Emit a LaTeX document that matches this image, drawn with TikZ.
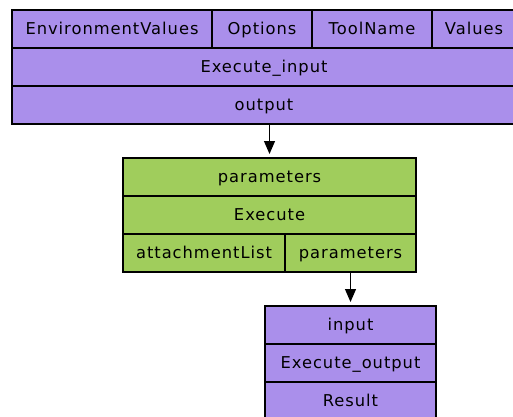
\documentclass[tikz,border=0pt]{standalone}
\usepackage{fontspec}
\usepackage{xcolor}
\usepackage{tikz}
\usetikzlibrary{positioning, arrows.meta}

\newfontfamily\cellfont[LetterSpace=6]{DejaVu Sans}
\definecolor{msgpurple}{RGB}{170,143,235}
\definecolor{opgreen}{RGB}{160,205,92}

\begin{document}
\begin{tikzpicture}[
    cell/.style = {draw, rectangle, minimum height=38pt, inner sep=0pt, outer sep=0pt, align=center, text height=11pt, text depth=0pt, font=\cellfont\fontsize{16.3}{19}\selectfont, line width=1.1pt},
    msgcell/.style = {cell, fill=msgpurple},
    opcell/.style = {cell, fill=opgreen},
    arrow/.style = {-{Triangle[length=13pt, width=11pt]}, line width=1.1pt, shorten >=4pt}
  ]
  \useasboundingbox (0,0) rectangle (513pt,-416pt);

  % ================= EXECUTE_INPUT =================
  \node[msgcell, minimum width=200pt, anchor=north west] (envvals) at (12pt,-10pt) {EnvironmentValues};
  \node[msgcell, minimum width=100pt, right=0pt of envvals] (options) {Options};
  \node[msgcell, minimum width=120pt, right=0pt of options] (toolname) {ToolName};
  \node[msgcell, minimum width=84pt, right=0pt of toolname] (values) {Values};
  \node[msgcell, minimum width=504pt, anchor=north west] (execin) at (envvals.south west) {Execute\_input};
  \node[msgcell, minimum width=504pt, below=0pt of execin] (output) {output};

  % ================= EXECUTE =================
  \node[opcell, minimum width=293pt, below=34pt of output, xshift=5.5pt] (params) {parameters};
  \node[opcell, minimum width=293pt, below=0pt of params] (execute) {Execute};
  \node[opcell, minimum width=162pt, anchor=north west] (attlist) at (execute.south west) {attachmentList};
  \node[opcell, minimum width=131pt, right=0pt of attlist] (opparams) {parameters};

  % ================= EXECUTE_OUTPUT =================
  \node[msgcell, minimum width=171pt, below=34pt of opparams] (input) {input};
  \node[msgcell, minimum width=171pt, below=0pt of input] (execout) {Execute\_output};
  \node[msgcell, minimum width=171pt, below=0pt of execout] (result) {Result};

  % Flow between the blocks
  \draw[arrow] (output.south -| params.north) -- (params.north);
  \draw[arrow] (opparams.south) -- (input.north);

\end{tikzpicture}
\end{document}
